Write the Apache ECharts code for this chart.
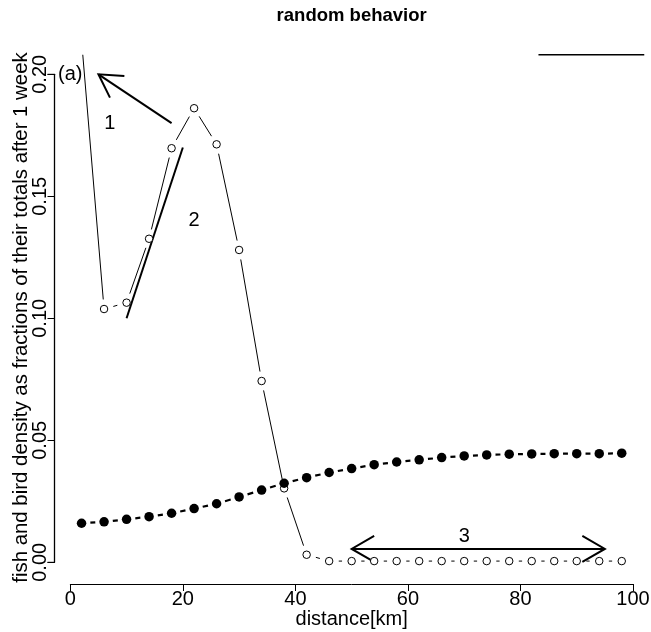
<!DOCTYPE html>
<html><head><meta charset="utf-8">
<script src="https://cdn.jsdelivr.net/npm/echarts@6/dist/echarts.min.js"></script>
<style>html,body{margin:0;padding:0;background:#fff}#c{width:651px;height:632px}</style>
</head><body><div id="c"></div>
<script>
// ---- data ----
const distance = [2,6,10,14,18,22,26,30,34,38,42,46,50,54,58,62,66,70,74,78,82,86,90,94,98];
const fishDensity = [0.214,0.1038,0.1064,0.1326,0.1697,0.1861,0.1713,0.1280,0.0743,0.0303,0.0031,
  0.0005,0.0005,0.0005,0.0005,0.0005,0.0005,0.0005,0.0005,0.0005,0.0005,0.0005,0.0005,0.0005,0.0005];
const birdDensity = [0.0160,0.0166,0.0176,0.0187,0.0201,0.0220,0.0240,0.0268,0.0296,0.0324,0.0347,0.0368,0.0384,
  0.0400,0.0411,0.0420,0.0429,0.0436,0.0440,0.0443,0.0444,0.0445,0.0445,0.0445,0.0447];
const xTicks = [0,20,40,60,80,100];
const yTicks = [0,0.05,0.10,0.15,0.20];
const yTickLabels = ['0.00','0.05','0.10','0.15','0.20'];
const arrow1 = [[18,0.18],[5,0.2]];
const line2 = [[10,0.10],[20,0.17]];
const arrow3 = [[50,0.0055],[95,0.0055]];
const noteTexts = ['(a)','1','2','3'];
const noteX = [0,7,22,70];
const noteY = [0.2,0.18,0.14,0.0105];
const topLine = [[83.2,0.208],[102,0.208]];
const titleText = 'random behavior';
const xTitle = 'distance[km]';
const yTitle = 'fish and bird density as fractions of their totals after 1 week';

// ---- layout ----
const W = 651, H = 632;
const X0 = 70.3, X100 = 633, Y0 = 562.3, Y02 = 74.3, AXB = 584, AXL = 54.5, PTOP = 54.8;
const KY = (Y0 - Y02) / 0.2;
const FONT = '"Liberation Sans", Arial, Helvetica, sans-serif';

const chart = echarts.init(document.getElementById('c'), null, {renderer: 'canvas'});

function segs(ys) {
  return distance.slice(1).map((x, i) => [distance[i], ys[i], x, ys[i + 1]]);
}
function segRender(gap, width) {
  return function (params, api) {
    const a = api.coord([api.value(0), api.value(1)]);
    const b = api.coord([api.value(2), api.value(3)]);
    const dx = b[0] - a[0], dy = b[1] - a[1], L = Math.hypot(dx, dy);
    if (L <= 2 * gap) return null;
    const ux = dx / L, uy = dy / L;
    return {type: 'line', shape: {x1: a[0] + ux * gap, y1: a[1] + uy * gap, x2: b[0] - ux * gap, y2: b[1] - uy * gap},
      style: {stroke: '#000', lineWidth: width}};
  };
}

chart.setOption({
  animation: false,
  backgroundColor: '#fff',
  grid: [
    {left: X0, right: W - X100, top: Y02, bottom: H - Y0, outerBoundsMode: 'none'},
    {left: X0, right: W - X100, top: PTOP, bottom: H - AXB, outerBoundsMode: 'none'}
  ],
  xAxis: [
    {gridIndex: 0, type: 'value', position: 'bottom', min: xTicks[0], max: xTicks[xTicks.length - 1], interval: 20,
      offset: AXB - Y0,
      axisLine: {show: true, onZero: false, lineStyle: {color: '#000', width: 1}},
      axisTick: {show: true, inside: false, length: 7, lineStyle: {color: '#000', width: 1}},
      splitLine: {show: false},
      axisLabel: {fontSize: 20, color: '#000', fontFamily: FONT, margin: 5}},
    {gridIndex: 1, type: 'value', min: 0, max: 100, show: false}
  ],
  yAxis: [
    {gridIndex: 0, type: 'value', position: 'left', min: yTicks[0], max: yTicks[yTicks.length - 1], interval: 0.05,
      offset: X0 - AXL,
      axisLine: {show: true, onZero: false, lineStyle: {color: '#000', width: 1.3}},
      axisTick: {show: true, inside: false, length: 7, lineStyle: {color: '#000', width: 1}},
      splitLine: {show: false},
      axisLabel: {fontSize: 20, color: '#000', fontFamily: FONT, margin: 4, rotate: 90,
        formatter: v => { const i = yTicks.findIndex(t => Math.abs(t - v) < 1e-9); return i >= 0 ? yTickLabels[i] : ''; }}},
    {gridIndex: 1, type: 'value', min: -(AXB - Y0) / KY, max: (Y0 - PTOP) / KY, show: false}
  ],
  series: [
    {type: 'custom', xAxisIndex: 1, yAxisIndex: 1, clip: true, data: segs(fishDensity),
      encode: {x: [0, 2], y: [1, 3]}, renderItem: segRender(9.6, 1), z: 2},
    {type: 'scatter', xAxisIndex: 1, yAxisIndex: 1, clip: true, data: distance.map((x, i) => [x, fishDensity[i]]),
      symbol: 'circle', symbolSize: 7.5, itemStyle: {color: '#fff', borderColor: '#000', borderWidth: 1, opacity: 1}, z: 3},
    {type: 'custom', xAxisIndex: 1, yAxisIndex: 1, clip: true, data: segs(birdDensity),
      encode: {x: [0, 2], y: [1, 3]}, renderItem: segRender(8.8, 2.2), z: 4},
    {type: 'scatter', xAxisIndex: 1, yAxisIndex: 1, clip: true, data: distance.map((x, i) => [x, birdDensity[i]]),
      symbol: 'circle', symbolSize: 9.5, itemStyle: {color: '#000', opacity: 1}, z: 5}
  ]
});

const els = [];
// y axis line as one path (with its end ticks), placed through the axis scale
const yPix = v => chart.convertToPixel({xAxisIndex: 0, yAxisIndex: 0}, [0, v])[1];
const yTop = yPix(yTicks[yTicks.length - 1]), yBot = yPix(yTicks[0]);
els.push({type: 'polyline', shape: {points: [[AXL - 7, yTop], [AXL, yTop], [AXL, yBot], [AXL - 7, yBot]]},
  style: {stroke: '#000', lineWidth: 1, fill: null}});

// ---- annotations through the plot scales ----
const px = p => chart.convertToPixel({xAxisIndex: 1, yAxisIndex: 1}, p);
function head(tip, from, len, ang) {
  const th = Math.atan2(from[1] - tip[1], from[0] - tip[0]);
  return [[tip[0] + len * Math.cos(th + ang), tip[1] + len * Math.sin(th + ang)], tip,
          [tip[0] + len * Math.cos(th - ang), tip[1] + len * Math.sin(th - ang)]];
}
const lineStyle = w => ({stroke: '#000', lineWidth: w, fill: null});
{
  const t = px(arrow1[0]), h = px(arrow1[1]);
  els.push({type: 'line', shape: {x1: t[0], y1: t[1], x2: h[0], y2: h[1]}, style: lineStyle(2)});
  els.push({type: 'polyline', shape: {points: head(h, t, 26, Math.PI / 6)}, style: lineStyle(2)});
}
{
  const a = px(line2[0]), b = px(line2[1]);
  els.push({type: 'line', shape: {x1: a[0], y1: a[1], x2: b[0], y2: b[1]}, style: lineStyle(2)});
}
{
  const a = px(arrow3[0]), b = px(arrow3[1]);
  els.push({type: 'line', shape: {x1: a[0], y1: a[1], x2: b[0], y2: b[1]}, style: lineStyle(2)});
  els.push({type: 'polyline', shape: {points: head(a, b, 26, Math.PI / 6)}, style: lineStyle(2)});
  els.push({type: 'polyline', shape: {points: head(b, a, 26, Math.PI / 6)}, style: lineStyle(2)});
}
{
  const a = px(topLine[0]), b = px(topLine[1]);
  els.push({type: 'line', shape: {x1: a[0], y1: a[1], x2: b[0], y2: b[1]}, style: lineStyle(1.4)});
}
noteTexts.forEach((t, i) => {
  const p = px([noteX[i], noteY[i]]);
  els.push({type: 'text', x: p[0], y: p[1], style: {text: t, fontSize: 20, fontFamily: FONT, fill: '#000', align: 'center', verticalAlign: 'middle'}});
});
els.push({type: 'text', x: (X0 + X100) / 2, y: 16, style: {text: titleText, fontSize: 18.5, fontWeight: 'bold', fontFamily: FONT, fill: '#000', align: 'center', verticalAlign: 'middle'}});
els.push({type: 'text', x: (X0 + X100) / 2, y: 619, style: {text: xTitle, fontSize: 20, fontFamily: FONT, fill: '#000', align: 'center', verticalAlign: 'middle'}});
els.push({type: 'text', x: 21, y: 317.5, rotation: Math.PI / 2, style: {text: yTitle, fontSize: 20.4, fontFamily: FONT, fill: '#000', align: 'center', verticalAlign: 'middle'}});
chart.setOption({graphic: {elements: els}});
</script>
</body></html>
